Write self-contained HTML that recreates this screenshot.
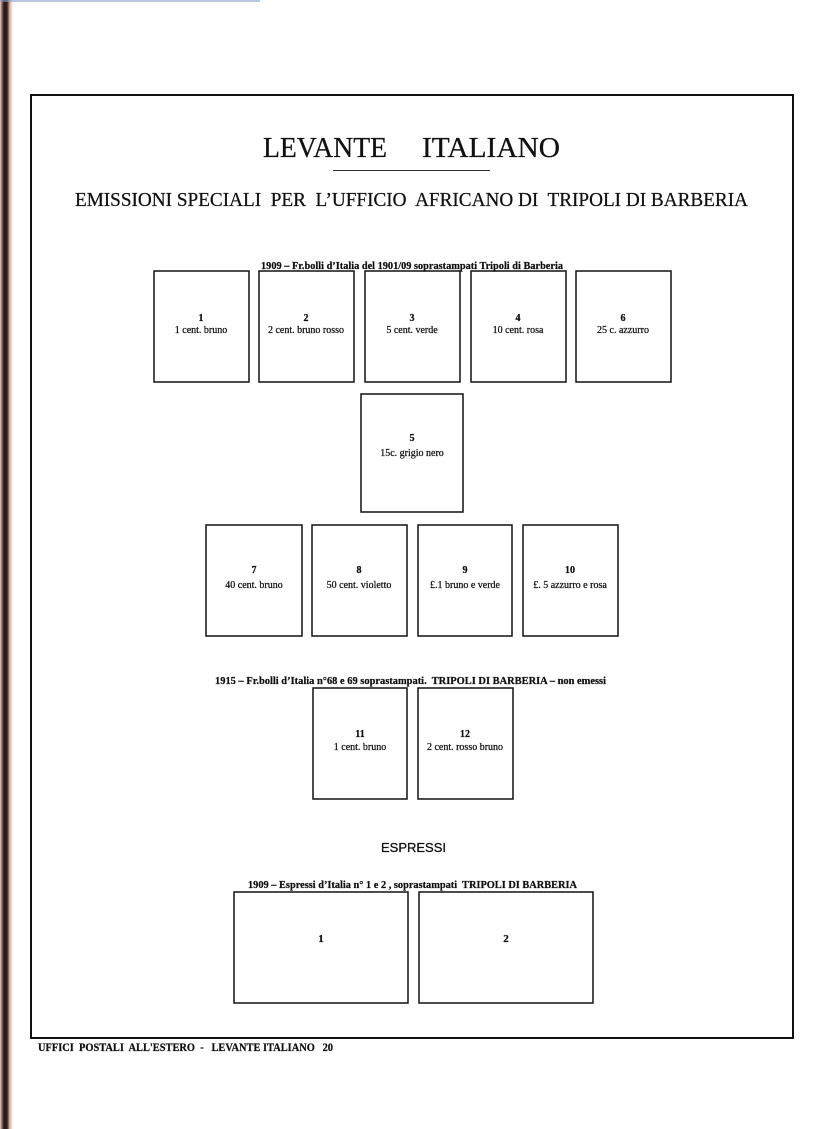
<!DOCTYPE html>
<html>
<head>
<meta charset="utf-8">
<style>
html,body{margin:0;padding:0;background:#fff;}
body{width:838px;height:1129px;overflow:hidden;}
svg{display:block;}
.serif{font-family:"Liberation Serif","DejaVu Serif",serif;fill:#111;stroke:#111;stroke-width:0.25px;}
.sans{font-family:"Liberation Sans","DejaVu Sans",sans-serif;fill:#111;stroke:#111;stroke-width:0.3px;}
</style>
</head>
<body>
<svg width="838" height="1129" viewBox="0 0 838 1129" xmlns="http://www.w3.org/2000/svg">
  <defs>
    <linearGradient id="edge" x1="0" y1="0" x2="1" y2="0">
      <stop offset="0" stop-color="#e8cfcc"/>
      <stop offset="0.2" stop-color="#6a4a44"/>
      <stop offset="0.35" stop-color="#1e1412"/>
      <stop offset="0.55" stop-color="#3a2622"/>
      <stop offset="0.75" stop-color="#d9b0a8"/>
      <stop offset="1" stop-color="#ffffff"/>
    </linearGradient>
  </defs>
  <rect x="0" y="0" width="838" height="1129" fill="#fff"/>
  <!-- scanned left edge -->
  <rect x="0" y="0" width="13" height="1129" fill="url(#edge)"/>
  <!-- faint top blue line -->
  <rect x="0" y="0" width="260" height="2" fill="#8aa0c8" opacity="0.6"/>

  <!-- outer frame -->
  <rect x="31" y="95" width="762" height="943" fill="none" stroke="#111" stroke-width="2"/>

  <!-- Title -->
  <text class="serif" x="263" y="157" font-size="29" textLength="124" lengthAdjust="spacingAndGlyphs">LEVANTE</text>
  <text class="serif" x="422" y="157" font-size="29" textLength="138" lengthAdjust="spacingAndGlyphs">ITALIANO</text>
  <line x1="333" y1="170.5" x2="490" y2="170.5" stroke="#333" stroke-width="1"/>

  <!-- Subtitle -->
  <text class="serif" x="75" y="206" font-size="19.5" textLength="673" lengthAdjust="spacingAndGlyphs" style="white-space:pre">EMISSIONI SPECIALI  PER  L’UFFICIO  AFRICANO DI  TRIPOLI DI BARBERIA</text>

  <!-- Section 1 header -->
  <text class="serif" x="261" y="269" font-size="11" font-weight="bold" textLength="302" lengthAdjust="spacingAndGlyphs">1909 – Fr.bolli d’Italia del 1901/09 soprastampati Tripoli di Barberia</text>

  <g fill="none" stroke="#111" stroke-width="1.5">
    <!-- Row 1 -->
    <rect x="154" y="271" width="95" height="111"/>
    <rect x="259" y="271" width="95" height="111"/>
    <rect x="365" y="271" width="95" height="111"/>
    <rect x="471" y="271" width="95" height="111"/>
    <rect x="576" y="271" width="95" height="111"/>
    <!-- Row 2 -->
    <rect x="361" y="394" width="102" height="118"/>
    <!-- Row 3 -->
    <rect x="206" y="525" width="96" height="111"/>
    <rect x="312" y="525" width="95" height="111"/>
    <rect x="418" y="525" width="94" height="111"/>
    <rect x="523" y="525" width="95" height="111"/>
    <!-- Row 4 -->
    <rect x="313" y="688" width="94" height="111"/>
    <rect x="418" y="688" width="95" height="111"/>
    <!-- Espressi -->
    <rect x="234" y="892" width="174" height="111"/>
    <rect x="419" y="892" width="174" height="111"/>
  </g>

  <!-- Labels -->
  <g class="serif" font-size="10" text-anchor="middle">
    <text x="201" y="321" font-weight="bold">1</text>
    <text x="201" y="333">1 cent. bruno</text>
    <text x="306" y="321" font-weight="bold">2</text>
    <text x="306" y="333">2 cent. bruno rosso</text>
    <text x="412" y="321" font-weight="bold">3</text>
    <text x="412" y="333">5 cent. verde</text>
    <text x="518" y="321" font-weight="bold">4</text>
    <text x="518" y="333">10 cent. rosa</text>
    <text x="623" y="321" font-weight="bold">6</text>
    <text x="623" y="333">25 c. azzurro</text>

    <text x="412" y="441" font-weight="bold">5</text>
    <text x="412" y="456">15c. grigio nero</text>

    <text x="254" y="573" font-weight="bold">7</text>
    <text x="254" y="588">40 cent. bruno</text>
    <text x="359" y="573" font-weight="bold">8</text>
    <text x="359" y="588">50 cent. violetto</text>
    <text x="465" y="573" font-weight="bold">9</text>
    <text x="465" y="588">£.1 bruno e verde</text>
    <text x="570" y="573" font-weight="bold">10</text>
    <text x="570" y="588">£. 5 azzurro e rosa</text>

    <text x="360" y="737" font-weight="bold">11</text>
    <text x="360" y="750">1 cent. bruno</text>
    <text x="465" y="737" font-weight="bold">12</text>
    <text x="465" y="750">2 cent. rosso bruno</text>

    <text x="321" y="942" font-weight="bold" font-size="11">1</text>
    <text x="506" y="942" font-weight="bold" font-size="11">2</text>
  </g>

  <!-- Section 2 header -->
  <text class="serif" x="215" y="684" font-size="11" font-weight="bold" textLength="391" lengthAdjust="spacingAndGlyphs" style="white-space:pre">1915 – Fr.bolli d’Italia n°68 e 69 soprastampati.  TRIPOLI DI BARBERIA – non emessi</text>

  <!-- ESPRESSI -->
  <text class="sans" x="381" y="852" font-size="13" textLength="65" lengthAdjust="spacingAndGlyphs">ESPRESSI</text>

  <!-- Section 3 header -->
  <text class="serif" x="248" y="888" font-size="11" font-weight="bold" textLength="329" lengthAdjust="spacingAndGlyphs" style="white-space:pre">1909 – Espressi d’Italia n° 1 e 2 , soprastampati  TRIPOLI DI BARBERIA</text>

  <!-- Footer -->
  <text class="serif" x="38" y="1051" font-size="12" font-weight="bold" textLength="295" lengthAdjust="spacingAndGlyphs" style="white-space:pre">UFFICI  POSTALI  ALL'ESTERO  -   LEVANTE ITALIANO   20</text>
</svg>
</body>
</html>
